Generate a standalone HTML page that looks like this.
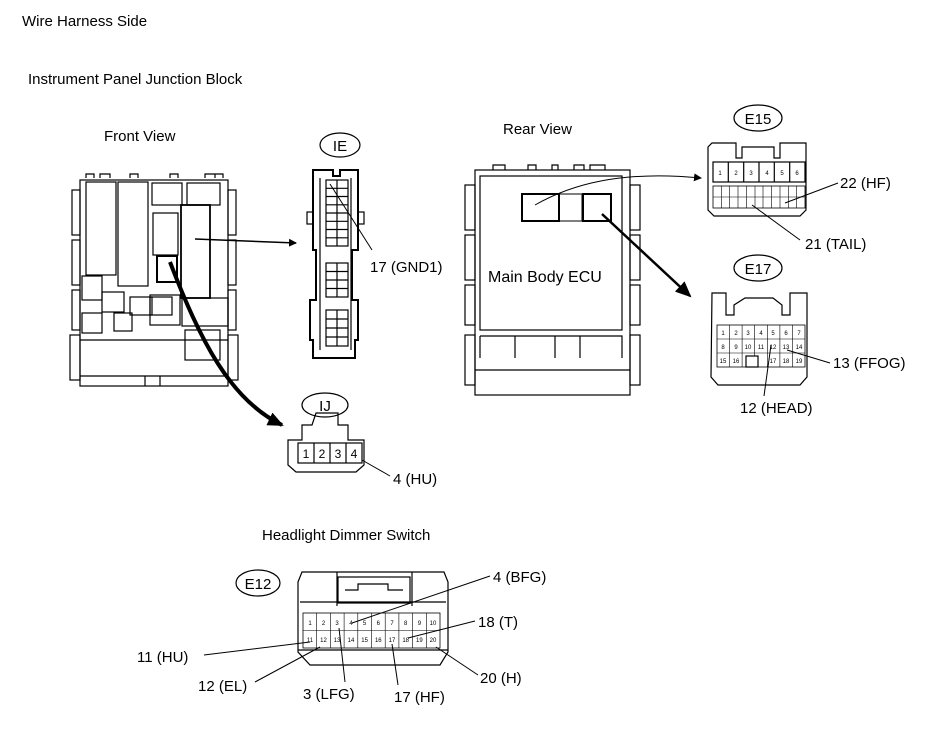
<!DOCTYPE html>
<html><head><meta charset="utf-8"><style>
html,body{margin:0;padding:0;background:#fff;}
svg{display:block;}
text{font-family:"Liberation Sans",sans-serif;fill:#000;}
.s{fill:none;stroke:#000;stroke-width:1.2;}
.t{fill:#fff;stroke:#000;stroke-width:2.2;}
.p{font-size:6px;text-anchor:middle;}
.l{font-size:15px;}
</style></head><body>
<svg width="930" height="739" viewBox="0 0 930 739" xmlns="http://www.w3.org/2000/svg">
<defs>
<marker id="ah" markerWidth="8" markerHeight="8" refX="7" refY="4" orient="auto" markerUnits="userSpaceOnUse"><path d="M0,0 L8,4 L0,8 z" fill="#000"/></marker>
<marker id="ah2" markerWidth="16" markerHeight="14" refX="14" refY="7" orient="auto" markerUnits="userSpaceOnUse"><path d="M0,0 L16,7 L0,14 z" fill="#000"/></marker>
</defs>
<text x="22" y="26" class="l">Wire Harness Side</text>
<text x="28" y="84" class="l">Instrument Panel Junction Block</text>
<text x="104" y="141" class="l">Front View</text>
<text x="503" y="134" class="l">Rear View</text>
<text x="262" y="540" class="l">Headlight Dimmer Switch</text>

<!-- Front view block -->
<g class="s">
<rect x="80" y="180" width="148" height="206"/>
<rect x="72" y="190" width="8" height="45"/><rect x="72" y="240" width="8" height="45"/><rect x="72" y="290" width="8" height="40"/>
<rect x="228" y="190" width="8" height="45"/><rect x="228" y="240" width="8" height="45"/><rect x="228" y="290" width="8" height="40"/>
<rect x="70" y="335" width="10" height="45"/><rect x="228" y="335" width="10" height="45"/>
<path d="M86,178 v-4 h8 v4 M100,178 v-4 h10 v4 M130,178 v-4 h8 v4 M170,178 v-4 h8 v4 M205,178 v-4 h10 v4 M215,178 v-4 h8 v4"/>
<rect x="86" y="182" width="30" height="93"/>
<rect x="118" y="182" width="30" height="104"/>
<rect x="152" y="183" width="30" height="22"/>
<rect x="187" y="183" width="33" height="22"/>
<rect x="153" y="213" width="25" height="42"/>
<rect x="181" y="205" width="29" height="93" stroke-width="1.8"/>
<rect x="82" y="276" width="20" height="24"/><rect x="102" y="292" width="22" height="20"/>
<rect x="130" y="297" width="22" height="18"/><rect x="150" y="297" width="22" height="18"/>
<rect x="82" y="313" width="20" height="20"/><rect x="114" y="313" width="18" height="18"/>
<rect x="150" y="295" width="30" height="30"/><rect x="182" y="298" width="46" height="28"/>
<rect x="185" y="330" width="35" height="30"/>
<path d="M80,340 H228 M80,376 H228 M145,376 v10 M160,376 v10"/>
</g>
<rect x="157" y="256" width="20" height="26" fill="none" stroke="#000" stroke-width="2"/>
<line x1="195" y1="239" x2="296" y2="243" stroke="#000" stroke-width="1.5" marker-end="url(#ah)"/>
<path d="M170,262 C200,340 230,400 282,425" fill="none" stroke="#000" stroke-width="4" marker-end="url(#ah2)"/>

<!-- IE -->
<ellipse cx="340" cy="145" rx="20" ry="12" class="s" stroke-width="1.5"/>
<text x="340" y="151" class="l" text-anchor="middle">IE</text>
<g class="s">
<path d="M313,170 H333 V176 H340 V170 H358 V250 H352 V300 H358 V340 H355 V358 H313 V340 H310 V300 H316 V250 H313 Z" stroke-width="2"/>
<rect x="307" y="212" width="6" height="12"/><rect x="358" y="212" width="6" height="12"/>
<line x1="320" y1="178" x2="320" y2="350"/><line x1="351" y1="178" x2="351" y2="350"/>
</g>
<g class="s" stroke-width="0.8">
<rect x="326" y="180" width="22" height="66"/><line x1="337" y1="180" x2="337" y2="246"/>
<path d="M326,188.3H348M326,196.5H348M326,204.8H348M326,213H348M326,221.3H348M326,229.5H348M326,237.8H348"/>
<rect x="326" y="263" width="22" height="34"/><line x1="337" y1="263" x2="337" y2="297"/>
<path d="M326,271.5H348M326,280H348M326,288.5H348"/>
<rect x="326" y="310" width="22" height="36"/><line x1="337" y1="310" x2="337" y2="346"/>
<path d="M326,319H348M326,328H348M326,337H348"/>
</g>
<line x1="330" y1="184" x2="372" y2="250" stroke="#000" stroke-width="1"/>
<text x="370" y="272" class="l">17 (GND1)</text>

<!-- IJ -->
<ellipse cx="325" cy="405" rx="23" ry="12" class="s" stroke-width="1.5"/>
<text x="325" y="411" class="l" text-anchor="middle">IJ</text>
<g class="s" stroke-width="1.5">
<path d="M316,413 H338 V425 H348 V440 H364 V465 L356,472 H296 L288,465 V440 H302 V425 H312 Z"/>
<rect x="298" y="443" width="64" height="20"/>
<path d="M314,443V463M330,443V463M346,443V463"/>
</g>
<text x="306" y="458" font-size="12" text-anchor="middle">1</text>
<text x="322" y="458" font-size="12" text-anchor="middle">2</text>
<text x="338" y="458" font-size="12" text-anchor="middle">3</text>
<text x="354" y="458" font-size="12" text-anchor="middle">4</text>
<line x1="362" y1="460" x2="390" y2="476" stroke="#000"/>
<text x="393" y="484" class="l">4 (HU)</text>

<!-- Rear view ECU -->
<g class="s">
<rect x="475" y="170" width="155" height="225"/>
<rect x="480" y="176" width="142" height="154"/>
<rect x="465" y="185" width="10" height="45"/><rect x="465" y="235" width="10" height="45"/><rect x="465" y="285" width="10" height="40"/>
<rect x="630" y="185" width="10" height="45"/><rect x="630" y="235" width="10" height="45"/><rect x="630" y="285" width="10" height="40"/>
<rect x="465" y="335" width="10" height="50"/><rect x="630" y="335" width="10" height="50"/>
<path d="M480,336 H622 V358 M480,358 V336 M515,336 V358 M555,336 V358 M580,336 V358 M475,370 H630"/>
<path d="M493,170 v-5 h12 v5 M528,170 v-5 h8 v5 M552,170 v-5 h6 v5 M574,170 v-5 h10 v5 M590,170 v-5 h15 v5"/>
</g>
<rect x="522" y="194" width="37" height="27" fill="none" stroke="#000" stroke-width="2"/>
<rect x="559" y="194" width="23" height="27" fill="none" stroke="#000" stroke-width="1"/>
<rect x="583" y="194" width="28" height="27" fill="none" stroke="#000" stroke-width="2"/>
<text x="488" y="282" font-size="16">Main Body ECU</text>
<path d="M535,205 C570,185 620,170 701,178" fill="none" stroke="#000" stroke-width="1" marker-end="url(#ah)"/>
<line x1="602" y1="214" x2="690" y2="296" stroke="#000" stroke-width="2.5" marker-end="url(#ah2)"/>

<!-- E15 -->
<ellipse cx="758" cy="118" rx="24" ry="13" class="s" stroke-width="1.5"/>
<text x="758" y="124" class="l" text-anchor="middle">E15</text>
<g class="s" stroke-width="1.4">
<path d="M712,143 H736 V158 H742 V147 H774 V158 H780 V143 H806 V210 L800,216 H714 L708,210 V147 Z"/>
<rect x="713" y="162" width="92" height="20"/>
<path d="M728.3,162V182M743.7,162V182M759,162V182M774.3,162V182M789.7,162V182"/>
<rect x="713" y="186" width="92" height="22" stroke-width="0.8"/>
<path d="M713,197H805M721.4,186V208M729.7,186V208M738,186V208M746.5,186V208M755,186V208M763,186V208M771.6,186V208M780,186V208M788.3,186V208M796.7,186V208" stroke-width="0.6"/>
</g>
<text x="720" y="175" class="p">1</text><text x="736" y="175" class="p">2</text><text x="751" y="175" class="p">3</text><text x="767" y="175" class="p">4</text><text x="782" y="175" class="p">5</text><text x="797" y="175" class="p">6</text>
<line x1="785" y1="203" x2="838" y2="183" stroke="#000"/>
<line x1="752" y1="205" x2="800" y2="240" stroke="#000"/>
<text x="840" y="188" class="l">22 (HF)</text>
<text x="805" y="249" class="l">21 (TAIL)</text>

<!-- E17 -->
<ellipse cx="758" cy="268" rx="24" ry="13" class="s" stroke-width="1.5"/>
<text x="758" y="274" class="l" text-anchor="middle">E17</text>
<g class="s" stroke-width="1.4">
<path d="M712,293 H726 V315 H734 V305 L745,298 H773 L782,305 V315 H790 V293 H807 V377 L800,385 H718 L711,377 Z"/>
<rect x="717" y="325" width="88" height="42" stroke-width="0.8"/>
<path d="M717,339H805M717,353H805M729.6,325V367M742.1,325V367M754.7,325V367M767.3,325V367M779.9,325V367M792.4,325V367" stroke-width="0.6"/>
<rect x="746" y="356" width="12" height="11" fill="#fff"/>
</g>
<g class="p"><text x="723" y="335">1</text><text x="736" y="335">2</text><text x="748" y="335">3</text><text x="761" y="335">4</text><text x="773" y="335">5</text><text x="786" y="335">6</text><text x="799" y="335">7</text>
<text x="723" y="349">8</text><text x="736" y="349">9</text><text x="748" y="349">10</text><text x="761" y="349">11</text><text x="773" y="349">12</text><text x="786" y="349">13</text><text x="799" y="349">14</text>
<text x="723" y="363">15</text><text x="736" y="363">16</text><text x="773" y="363">17</text><text x="786" y="363">18</text><text x="799" y="363">19</text></g>
<line x1="787" y1="350" x2="830" y2="363" stroke="#000"/>
<line x1="771" y1="345" x2="764" y2="396" stroke="#000"/>
<text x="833" y="368" class="l">13 (FFOG)</text>
<text x="740" y="413" class="l">12 (HEAD)</text>

<!-- E12 -->
<ellipse cx="258" cy="583" rx="22" ry="13" class="s" stroke-width="1.5"/>
<text x="258" y="589" class="l" text-anchor="middle">E12</text>
<g class="s" stroke-width="1.4">
<path d="M302,572 H444 L448,582 V652 L440,665 H310 L298,652 V582 Z"/>
<path d="M337,572 V606 M412,572 V606 M300,602 H446"/>
<rect x="338" y="577" width="72" height="26"/>
<path d="M345,590 h13 v-6 h30 v6 h15"/>
<rect x="303" y="613" width="137" height="35" stroke-width="0.8"/>
<path d="M303,630.5H440M316.7,613V648M330.4,613V648M344.1,613V648M357.8,613V648M371.5,613V648M385.2,613V648M398.9,613V648M412.6,613V648M426.3,613V648" stroke-width="0.6"/>
<path d="M298,650 H448"/>
</g>
<g class="p"><text x="310" y="625">1</text><text x="323.5" y="625">2</text><text x="337" y="625">3</text><text x="351" y="625">4</text><text x="364.6" y="625">5</text><text x="378.3" y="625">6</text><text x="392" y="625">7</text><text x="405.7" y="625">8</text><text x="419.4" y="625">9</text><text x="433" y="625">10</text>
<text x="310" y="642">11</text><text x="323.5" y="642">12</text><text x="337" y="642">13</text><text x="351" y="642">14</text><text x="364.6" y="642">15</text><text x="378.3" y="642">16</text><text x="392" y="642">17</text><text x="405.7" y="642">18</text><text x="419.4" y="642">19</text><text x="433" y="642">20</text></g>
<g stroke="#000" stroke-width="1">
<line x1="352" y1="623" x2="490" y2="576"/>
<line x1="408" y1="638" x2="475" y2="621"/>
<line x1="310" y1="642" x2="204" y2="655"/>
<line x1="320" y1="647" x2="255" y2="682"/>
<line x1="339" y1="628" x2="345" y2="682"/>
<line x1="392" y1="644" x2="398" y2="685"/>
<line x1="436" y1="647" x2="478" y2="675"/>
</g>
<text x="493" y="582" class="l">4 (BFG)</text>
<text x="478" y="627" class="l">18 (T)</text>
<text x="137" y="662" class="l">11 (HU)</text>
<text x="198" y="691" class="l">12 (EL)</text>
<text x="303" y="699" class="l">3 (LFG)</text>
<text x="394" y="702" class="l">17 (HF)</text>
<text x="480" y="683" class="l">20 (H)</text>
</svg>
</body></html>
